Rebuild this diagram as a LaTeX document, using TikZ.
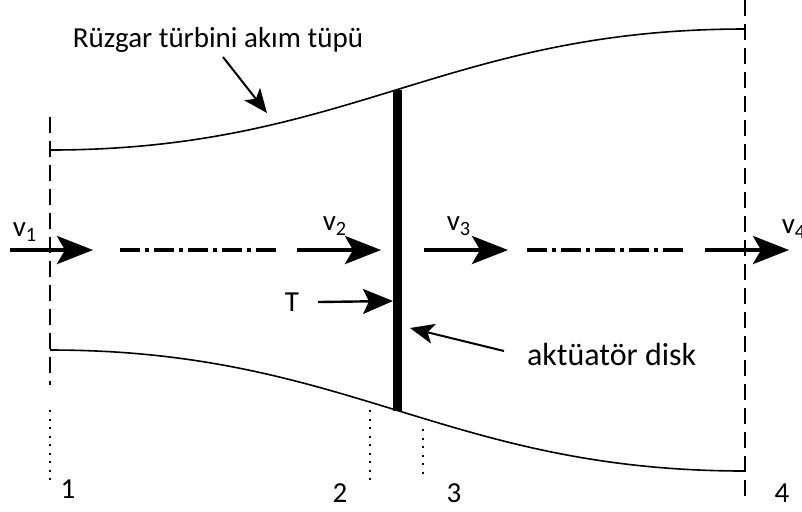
\documentclass[tikz,border=0pt]{standalone}
\usepackage{fontspec}
\setmainfont{Carlito}
\usetikzlibrary{arrows.meta,positioning}

\tikzset{
  wall/.style={line width=0.8pt},
  disk/.style={line width=4.5pt},
  section/.style={line width=1.2pt,dash pattern=on 8pt off 4pt},
  dotline/.style={line width=1pt,dash pattern=on 1pt off 3.25pt},
  axisline/.style={line width=2pt,dash pattern=on 10pt off 2.5pt on 2pt off 2.5pt},
  flow/.style={line width=2pt,-{Stealth[length=18pt,width=14pt,inset=4pt]}},
  pointer/.style={line width=1pt,-{Stealth[length=12pt,width=10pt,inset=3pt]}}
}

\begin{document}
\begin{tikzpicture}[x=0.5pt,y=-0.5pt,font=\fontsize{14.5}{17}\selectfont]
\useasboundingbox (0,0) rectangle (802,511);

% stream tube and disk
\draw[wall] (50,150) coordinate (UL) .. controls (350,150) and (445,29) .. (745,29) coordinate (UR)
  coordinate[pos=0.5] (DT);
\draw[wall] (50,350) coordinate (LL) .. controls (350,350) and (445,471) .. (745,471) coordinate (LR)
  coordinate[pos=0.5] (DB);
\draw[disk] (DT) -- (DB);

% stations
\draw[section] (50,117) -- (50,385);
\draw[section] (745,0) -- (745,498);
\draw[dotline] (50,410) -- (50,482);
\draw[dotline] (370,410) -- (370,480);
\draw[dotline] (423,429) -- (423,480);
\node (S1) at (68,489) {1};
\node (S2) at (340,493) {2};
\node (S3) at (454,493) {3};
\node (S4) at (782,493) {4};

% flow along the axis
\coordinate (F1a) at (10,250);  \coordinate (F1b) at (93,250);
\coordinate (F2a) at (297,250); \coordinate (F2b) at (381,250);
\coordinate (F3a) at (424,250); \coordinate (F3b) at (508,250);
\coordinate (F4a) at (705,250); \coordinate (F4b) at (789,250);
\draw[flow] (F1a) -- (F1b);
\draw[flow] (F2a) -- (F2b);
\draw[flow] (F3a) -- (F3b);
\draw[flow] (F4a) -- (F4b);
\draw[axisline] (120,250) -- (277,250);
\draw[axisline] (527,250) -- (684,250);
\node (V1) at (25,232) {v\textsubscript{1}};
\node (V2) at (335,226) {v\textsubscript{2}};
\node (V3) at (459,226) {v\textsubscript{3}};
\node (V4) at (794,229) {v\textsubscript{4}};

% thrust
\node (T) at (292,302) {T};
\coordinate (Ttip) at (393,301);
\draw[flow,line width=1.2pt,-{Stealth[length=15pt,width=12.5pt,inset=3pt]}] (T.east) ++(6pt,0) coordinate (Ttail) (Ttail) -- (Ttip);

% labels with pointers
\node (tube) at (218,40) {Rüzgar türbini akım tüpü};
\coordinate (tubetail) at (223,57);
\coordinate (tubetip) at (267,113);
\draw[pointer] (tubetail) -- (tubetip);

\node (disklabel) [anchor=west,font=\fontsize{16}{19}\selectfont] at (520,354) {aktüatör disk};
\coordinate (disktail) at (504,351);
\coordinate (disktip) at (410,328);
\draw[pointer] (disktail) -- (disktip);
\end{tikzpicture}
\end{document}
